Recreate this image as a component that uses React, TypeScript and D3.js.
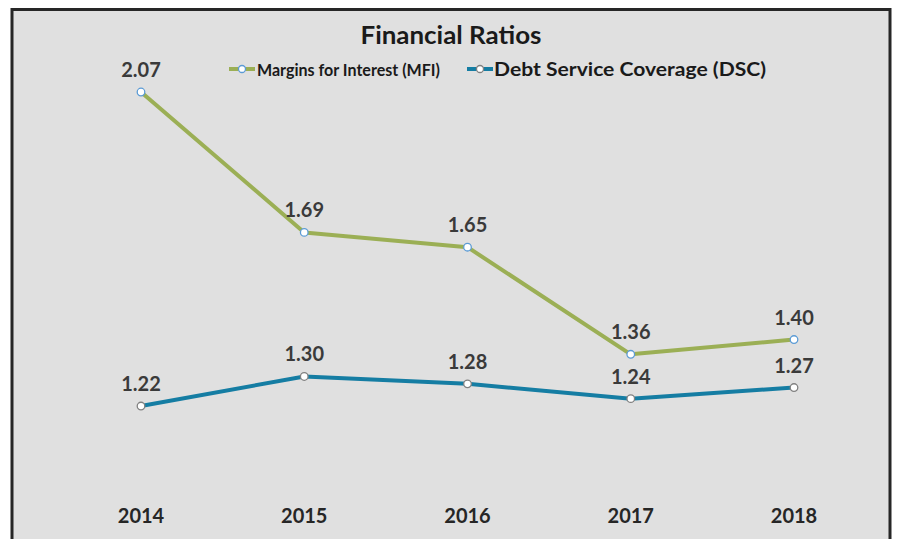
import React from "react";
import * as d3 from "d3";

const years = ["2014", "2015", "2016", "2017", "2018"];
const mfiValues = [2.07, 1.69, 1.65, 1.36, 1.4];
const dscValues = [1.22, 1.3, 1.28, 1.24, 1.27];
const seriesNames = ["Margins for Interest (MFI)", "Debt Service Coverage (DSC)"];
const title = "Financial Ratios";

const W = 897;
const H = 539;
const FONT = "Lato, 'Open Sans', sans-serif";

const GREEN = "#9BAF55";
const BLUE = "#157DA3";

export default function App() {
  const x = d3.scalePoint<string>().domain(years).range([141, 794]).padding(0);
  const y = d3.scaleLinear().domain([1.0, 2.2]).range([487.3, 44]);
  const line = d3
    .line<number>()
    .x((_, i) => x(years[i]) as number)
    .y((d) => y(d));

  const series = [
    { name: seriesNames[0], values: mfiValues, color: GREEN, marker: "#5B9BD5" },
    { name: seriesNames[1], values: dscValues, color: BLUE, marker: "#808080" },
  ];

  const legend = [
    { x0: 229, tx: 257, tl: 183, fs: 17 },
    { x0: 467, tx: 494, tl: 272, fs: 18 },
  ];

  return (
    <svg
      width={W}
      height={H}
      style={{ position: "absolute", left: 0, top: 0 }}
      fontFamily={FONT}
    >
      <rect x={0} y={0} width={W} height={H} fill="#ffffff" />
      <rect
        x={12}
        y={9.5}
        width={878}
        height={600}
        fill="#E0E0E0"
        stroke="#262626"
        strokeWidth={3}
      />
      <text
        x={451}
        y={44}
        textAnchor="middle"
        fontSize={25}
        fontWeight="bold"
        fill="#1a1a1a"
        textLength={181}
        lengthAdjust="spacingAndGlyphs"
      >
        {title}
      </text>

      {series.map((s, i) => (
        <g key={"leg" + i}>
          <line
            x1={legend[i].x0}
            x2={legend[i].x0 + 26}
            y1={69}
            y2={69}
            stroke={s.color}
            strokeWidth={4}
          />
          <circle
            cx={legend[i].x0 + 13}
            cy={69}
            r={3.5}
            fill="#fff"
            stroke={s.marker}
            strokeWidth={1.3}
          />
          <text
            x={legend[i].tx}
            y={76}
            fontSize={legend[i].fs}
            fontWeight="bold"
            fill="#1a1a1a"
            textLength={legend[i].tl}
            lengthAdjust="spacingAndGlyphs"
          >
            {s.name}
          </text>
        </g>
      ))}

      {series.map((s, i) => (
        <g key={"s" + i}>
          <path d={line(s.values) || ""} fill="none" stroke={s.color} strokeWidth={4} strokeLinejoin="round" />
          {s.values.map((v, j) => (
            <g key={j}>
              <circle
                cx={x(years[j]) as number}
                cy={y(v)}
                r={3.8}
                fill="#fff"
                stroke={s.marker}
                strokeWidth={1.3}
              />
              <text
                x={x(years[j]) as number}
                y={y(v) - 15}
                textAnchor="middle"
                fontSize={20}
                fontWeight="bold"
                fill="#3a3a3a"
              >
                {v.toFixed(2)}
              </text>
            </g>
          ))}
        </g>
      ))}

      {years.map((yr) => (
        <text
          key={yr}
          x={x(yr) as number}
          y={523}
          textAnchor="middle"
          fontSize={20}
          fontWeight="bold"
          fill="#262626"
        >
          {yr}
        </text>
      ))}
    </svg>
  );
}
